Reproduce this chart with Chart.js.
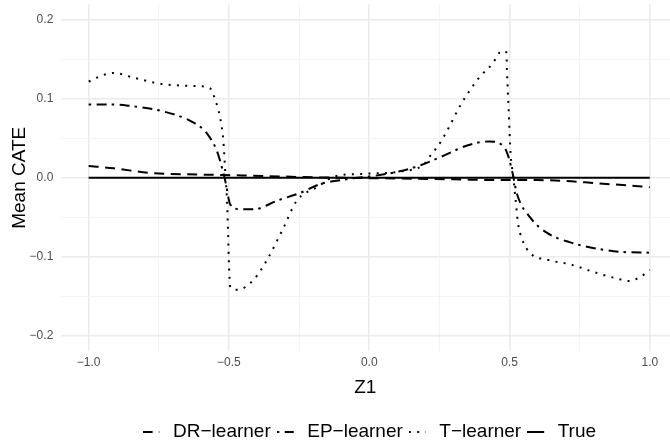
<!DOCTYPE html>
<html>
<head>
<meta charset="utf-8">
<script src="https://cdn.jsdelivr.net/npm/chart.js@4.4.1/dist/chart.umd.min.js"></script>
<style>
    html, body { margin: 0; padding: 0; background: #ffffff; }
    #cate_plot { display: block; }
</style>
</head>
<body>
<canvas id="cate_plot" width="670" height="442"></canvas>
<script>
'use strict';

// Legend labels, in legend order
const seriesNames = ['DR−learner', 'EP−learner', 'T−learner', 'True'];

// DR-learner (dashed)
const drX = [-1.0, -0.91, -0.78, -0.60, -0.45, -0.25, -0.10, 0.10, 0.30, 0.46, 0.60, 0.70, 0.81, 0.97, 1.0];
const drY = [0.015, 0.012, 0.006, 0.004, 0.003, 0.001, 0.000, -0.001, -0.002, -0.003, -0.003, -0.004, -0.007, -0.011, -0.012];

// EP-learner (dot-dash)
const epX = [-1.0, -0.91, -0.85, -0.744, -0.626, -0.578, -0.543, -0.525, -0.513, -0.495, -0.459, -0.411, -0.328, -0.245, -0.174, -0.102,
    0.064, 0.159, 0.266, 0.349, 0.426, 0.468, 0.491, 0.509, 0.527, 0.575, 0.634, 0.717, 0.813, 0.896, 1.0];
const epY = [0.093, 0.093, 0.091, 0.085, 0.070, 0.056, 0.034, 0.013, -0.004, -0.034, -0.040, -0.040, -0.029, -0.019, -0.008, -0.003,
    0.005, 0.013, 0.028, 0.041, 0.046, 0.043, 0.032, 0.009, -0.021, -0.051, -0.070, -0.082, -0.090, -0.094, -0.095];

// T-learner (dotted)
const tX = [-1.0, -0.95, -0.91, -0.84, -0.72, -0.60, -0.566, -0.548, -0.532, -0.520, -0.514, -0.507, -0.503, -0.500, -0.495, -0.469,
    -0.411, -0.364, -0.305, -0.258, -0.186, -0.12, -0.02, 0.11, 0.195, 0.218, 0.254, 0.284, 0.325, 0.359, 0.394, 0.438, 0.474,
    0.489, 0.491, 0.497, 0.504, 0.512, 0.521, 0.530, 0.545, 0.575, 0.634, 0.717, 0.813, 0.896, 0.925, 0.955, 0.982, 1.0];
const tY = [0.122, 0.130, 0.133, 0.127, 0.118, 0.116, 0.113, 0.098, 0.077, 0.047, 0.013, -0.029, -0.072, -0.110, -0.139, -0.142,
    -0.129, -0.104, -0.063, -0.029, -0.012, 0.002, 0.005, 0.008, 0.017, 0.028, 0.045, 0.064, 0.092, 0.111, 0.128, 0.144, 0.161,
    0.159, 0.136, 0.085, 0.030, 0.005, -0.025, -0.057, -0.078, -0.096, -0.104, -0.110, -0.121, -0.129, -0.131, -0.128, -0.122, -0.117];

// True effect (solid)
const trueX = [-1.0, 1.0];
const trueY = [0.0, 0.0];

// Axis ticks (major + minor grid lines)
const xTicks = [-1.0, -0.75, -0.5, -0.25, 0.0, 0.25, 0.5, 0.75, 1.0];
const yTicks = [-0.2, -0.15, -0.1, -0.05, 0.0, 0.05, 0.1, 0.15, 0.2];

const fontFamily = '"Liberation Sans", Arial, Helvetica, sans-serif';

// Zip x and y arrays into {x, y} points
function toPoints(xs, ys) {
    return xs.map((x, i) => ({ x: x, y: ys[i] }));
}

// Tick label with a real minus sign, as R draws it
function fmt(v) {
    return v.toFixed(1).replace('-', '−');
}

const isMajorX = v => Math.abs(v * 2 - Math.round(v * 2)) < 1e-6;
const isMajorY = v => Math.abs(v * 10 - Math.round(v * 10)) < 1e-6;

// Small canvas used as legend key, so the dash pattern shows in the legend
function makeKey(dash) {
    const key = document.createElement('canvas');
    key.width = 21;
    key.height = 4;
    const g = key.getContext('2d');
    g.strokeStyle = '#000000';
    g.lineWidth = 2;
    g.setLineDash(dash);
    g.beginPath();
    g.moveTo(0, 2);
    g.lineTo(17, 2);
    g.stroke();
    return key;
}

function lineSet(label, xs, ys, dash) {
    return {
        label: label,
        data: toPoints(xs, ys),
        borderColor: '#000000',
        backgroundColor: '#000000',
        borderWidth: 2,
        borderDash: dash,
        borderCapStyle: 'butt',
        pointRadius: 0,
        pointStyle: makeKey(dash),
        fill: false,
        cubicInterpolationMode: 'monotone'
    };
}

// The original panel is cropped at the right edge, so its legend sits a bit
// right of the visible plot centre; nudge the legend box to match.
const legendNudge = {
    id: 'legendNudge',
    afterLayout(chart) {
        if (chart.legend) {
            chart.legend.left += 8;
        }
    }
};

const ctx = document.getElementById('cate_plot').getContext('2d');

new Chart(ctx, {
    type: 'line',
    data: {
        datasets: [
            lineSet(seriesNames[0], drX, drY, [10, 6.5]),
            lineSet(seriesNames[1], epX, epY, [2.5, 5.5, 10, 5]),
            lineSet(seriesNames[2], tX, tY, [2, 6.3]),
            lineSet(seriesNames[3], trueX, trueY, [])
        ]
    },
    plugins: [legendNudge],
    options: {
        responsive: false,
        animation: false,
        layout: {
            autoPadding: false,
            padding: { top: 4.3, left: 0, right: 0, bottom: -9.5 }
        },
        plugins: {
            tooltip: { enabled: false },
            legend: {
                position: 'bottom',
                fullSize: false,
                labels: {
                    usePointStyle: true,
                    pointStyleWidth: 21,
                    boxHeight: 2,
                    padding: 6,
                    color: '#000000',
                    font: { family: fontFamily, size: 19 }
                }
            }
        },
        scales: {
            x: {
                type: 'linear',
                min: -1.1,
                max: 1.072,
                afterBuildTicks: axis => { axis.ticks = xTicks.map(v => ({ value: v })); },
                afterFit: axis => {
                    axis.height = 65.3;
                    axis.paddingLeft = 0;
                    axis.paddingRight = 0;
                },
                border: { display: false },
                grid: {
                    drawTicks: false,
                    color: c => (c.tick && isMajorX(c.tick.value)) ? '#ebebeb' : '#f3f3f3',
                    lineWidth: c => (c.tick && isMajorX(c.tick.value)) ? 1.6 : 0.9
                },
                ticks: {
                    autoSkip: false,
                    maxRotation: 0,
                    padding: 4.1,
                    color: '#4d4d4d',
                    font: { family: fontFamily, size: 12 },
                    callback: v => isMajorX(v) ? fmt(v) : ''
                },
                title: {
                    display: true,
                    text: 'Z1',
                    color: '#000000',
                    padding: { top: 0, bottom: 17.1 },
                    font: { family: fontFamily, size: 19 }
                }
            },
            y: {
                min: -0.22,
                max: 0.22,
                afterBuildTicks: axis => { axis.ticks = yTicks.map(v => ({ value: v })); },
                afterFit: axis => {
                    axis.width = 60.6;
                    axis.paddingTop = 0;
                    axis.paddingBottom = 0;
                },
                border: { display: false },
                grid: {
                    drawTicks: false,
                    color: c => (c.tick && isMajorY(c.tick.value)) ? '#ebebeb' : '#f3f3f3',
                    lineWidth: c => (c.tick && isMajorY(c.tick.value)) ? 1.6 : 0.9
                },
                ticks: {
                    autoSkip: false,
                    padding: 7.3,
                    color: '#4d4d4d',
                    font: { family: fontFamily, size: 12 },
                    callback: v => isMajorY(v) ? fmt(v) : ''
                },
                title: {
                    display: true,
                    text: 'Mean CATE',
                    color: '#000000',
                    padding: { top: 8.6, bottom: 0 },
                    font: { family: fontFamily, size: 19 }
                }
            }
        }
    }
});
</script>
</body>
</html>
